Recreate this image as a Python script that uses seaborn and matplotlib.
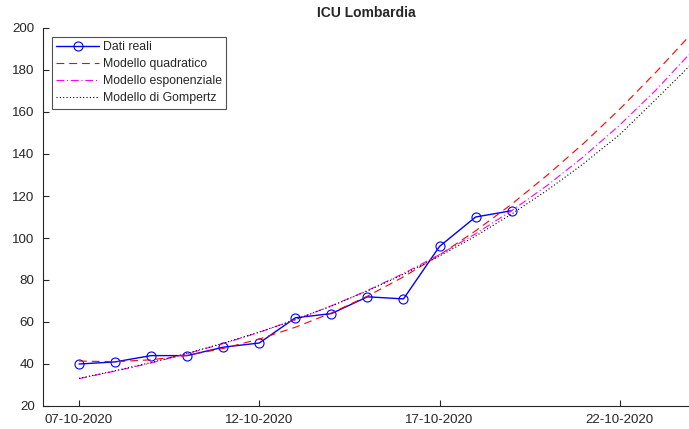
import numpy as np
import pandas as pd
import matplotlib
matplotlib.use("Agg")
import matplotlib.pyplot as plt
import matplotlib.dates as mdates
import seaborn as sns

# Dati reali (ICU Lombardia), 07-10-2020 .. 19-10-2020
date_reali = pd.date_range("2020-10-07", periods=13, freq="D")
icu_reali = [40, 41, 44, 44, 48, 50, 62, 64, 72, 71, 96, 110, 113]

# Model curves, one value per day, 07-10-2020 .. 24-10-2020
date_modelli = pd.date_range("2020-10-07", periods=18, freq="D")
quadratico = [41.4, 41.1, 42.0, 44.1, 47.4, 51.9, 57.5, 64.3, 72.3, 81.5,
              91.9, 103.4, 116.1, 130.1, 145.1, 161.4, 178.9, 197.5]
esponenziale = [33.0, 36.6, 40.5, 44.9, 49.7, 55.1, 61.1, 67.7, 75.0, 83.1,
                92.1, 102.0, 113.0, 125.2, 138.8, 153.8, 170.4, 188.8]
gompertz = [33.2, 36.8, 40.7, 45.1, 49.9, 55.2, 61.1, 67.6, 74.8, 82.7,
            91.4, 100.9, 111.4, 122.9, 135.5, 149.3, 166.0, 183.0]

tick_date = pd.to_datetime(["2020-10-07", "2020-10-12", "2020-10-17", "2020-10-22"])

sns.set_style("white")
plt.rcParams['font.family'] = ['Liberation Sans', 'DejaVu Sans']

df_reali = pd.DataFrame({"data": date_reali, "icu": icu_reali})
df_mod = pd.DataFrame({"data": date_modelli, "quad": quadratico,
                       "esp": esponenziale, "gomp": gompertz})

fig = plt.figure(figsize=(6.89, 4.29), dpi=100)
ax = fig.add_axes([43 / 689, 1 - 406 / 429, 1 - 43 / 689, (406 - 28) / 429])

sns.lineplot(data=df_reali, x="data", y="icu", ax=ax, color=(0, 0, 1), lw=1.0,
             marker="o", markersize=6.5, markerfacecolor="none",
             markeredgecolor=(0, 0, 1), markeredgewidth=0.8, label="Dati reali")
sns.lineplot(data=df_mod, x="data", y="quad", ax=ax, color=(1, 0, 0), lw=0.8,
             dashes=False, label="Modello quadratico")
ax.lines[-1].set_dashes([7, 4.5])
sns.lineplot(data=df_mod, x="data", y="esp", ax=ax, color=(1, 0, 1), lw=0.8,
             label="Modello esponenziale")
ax.lines[-1].set_dashes([7, 2.5, 1, 2.5])
sns.lineplot(data=df_mod, x="data", y="gomp", ax=ax, color="black", lw=0.8,
             label="Modello di Gompertz")
ax.lines[-1].set_dashes([1, 2])

ax.set_xlim(pd.Timestamp("2020-10-06"), pd.Timestamp("2020-10-06") + pd.Timedelta(days=17.92))
ax.set_ylim(20, 200)
ax.set_yticks(np.arange(20, 201, 20))
ax.set_xticks(tick_date)
ax.xaxis.set_major_formatter(mdates.DateFormatter("%d-%m-%Y"))
ax.tick_params(direction="in", length=4, width=0.8, labelsize=9.6, colors="#262626",
               bottom=True, left=True, pad=6)
ax.set_xlabel("")
ax.set_ylabel("")
sns.despine(ax=ax)
for s in ["left", "bottom"]:
    ax.spines[s].set_color("#262626")
    ax.spines[s].set_linewidth(0.8)

ax.set_title("ICU Lombardia", fontsize=10, fontweight="bold", pad=8)

leg = ax.legend(loc="upper left", bbox_to_anchor=(0.014, 0.977), fontsize=8.8,
                frameon=True, fancybox=False, handlelength=3.5, handletextpad=0.3,
                borderpad=0.35, labelspacing=0.42, borderaxespad=0)
leg.get_frame().set_edgecolor("#262626")
leg.get_frame().set_linewidth(0.8)

fig.savefig("out.png", dpi=100)
